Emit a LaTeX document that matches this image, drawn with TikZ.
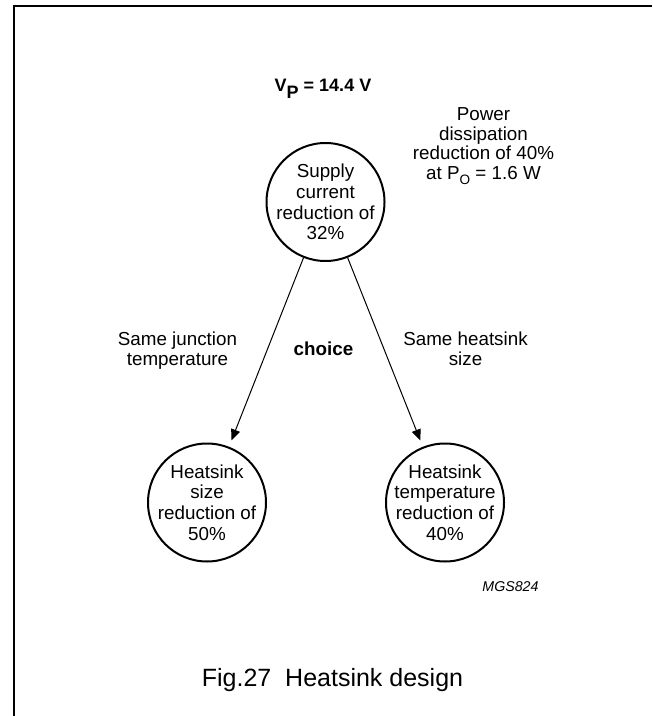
\documentclass[tikz,border=0pt]{standalone}
\usepackage{fontspec}
\setmainfont{Liberation Sans}
\usetikzlibrary{shapes}
\usetikzlibrary{arrows.meta}
\begin{document}
\begin{tikzpicture}[x=0.5pt,y=-0.5pt,every node/.style={inner sep=0pt,align=center,font=\fontsize{9.4}{10.3}\selectfont},
			stage/.style={circle,draw,line width=1pt,minimum size=59pt,inner sep=-8pt},
			flow/.style={draw,line width=0.5pt,-{Triangle[length=5.5pt,width=4.6pt]},shorten >=3.4pt}
			]
			\useasboundingbox (0,0) rectangle (652,716);
			\draw[line width=1pt] (13.5,716) |- (652,6.5);
			\node[stage](supply) at (325.5,202){Supply\\current\\reduction of\\32\%};
			\node[stage](size) at (207,502.5){Heatsink\\size\\reduction of\\50\%};
			\node[stage](temp) at (445,502.5){Heatsink\\temperature\\reduction of\\40\%};
			\draw[flow] (supply) -- (size);
			\draw[flow] (supply) -- (temp);
			\node[anchor=base,font=\fontsize{9}{10}\selectfont\bfseries](vp) at (323,91.7){V\raisebox{-3.2pt}{P} = 14.4 V};
			\node[anchor=north,font=\fontsize{9.4}{9.7}\selectfont](dissipation) at (483.5,107.5){Power\\dissipation\\reduction of 40\%\\at P\raisebox{-2.5pt}{\fontsize{6.8}{7}\selectfont O} = 1.6 W};
			\node[anchor=north](junction) at (177.5,331){Same junction\\temperature};
			\node[anchor=north,font=\fontsize{9.4}{10.3}\selectfont\bfseries](choice) at (323.5,341){choice};
			\node[anchor=north](heatsink) at (465.5,331){Same heatsink\\size};
			\node[anchor=north,font=\fontsize{7.1}{8}\selectfont\itshape](code) at (510.5,581){MGS824};
			\node[anchor=north,font=\fontsize{12.5}{14}\selectfont](caption) at (332.5,668){Fig.27~~Heatsink design};
\end{tikzpicture}
\end{document}
